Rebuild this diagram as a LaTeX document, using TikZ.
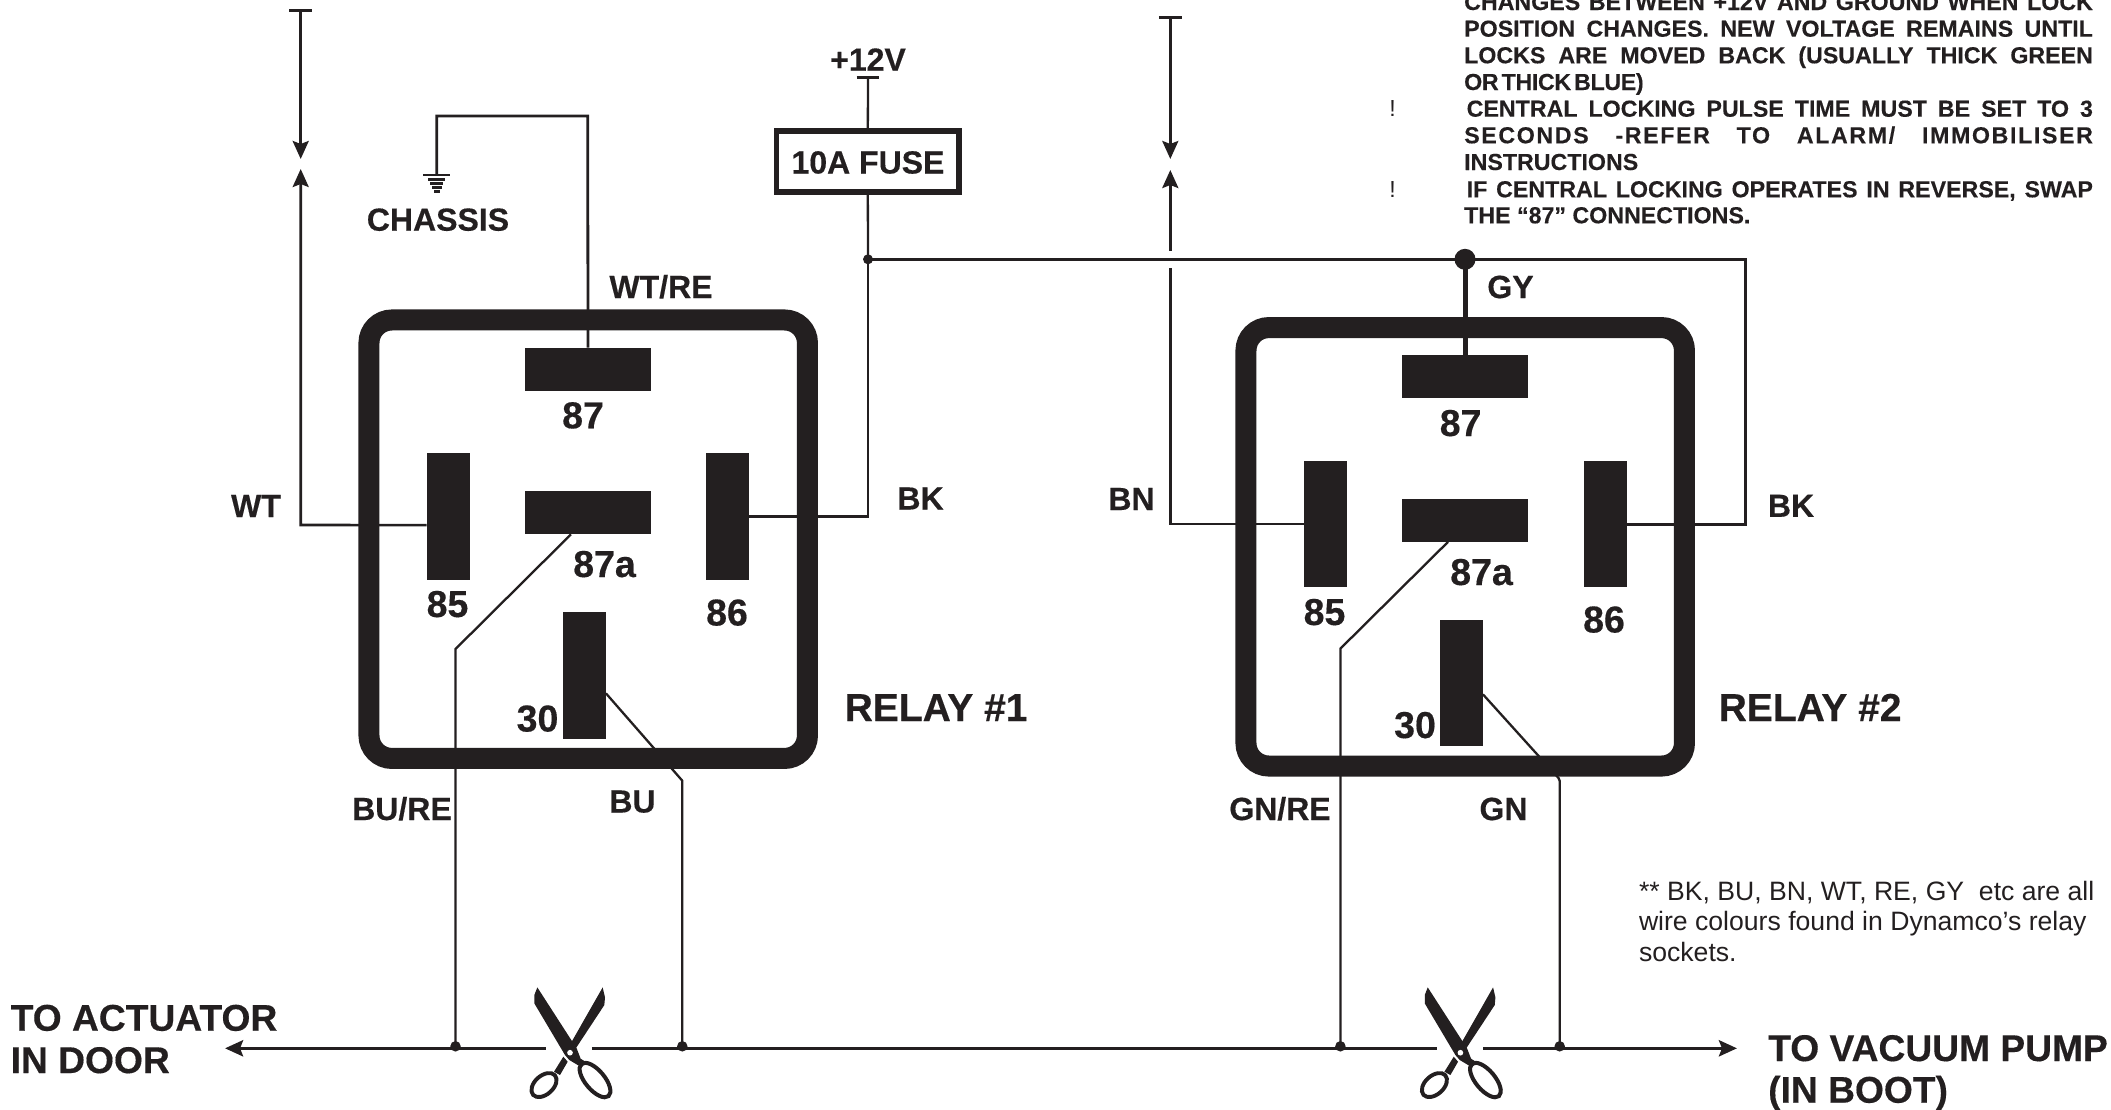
\documentclass[tikz,border=0pt]{standalone}
\usepackage{fontspec}
\setmainfont{Liberation Sans}
\usetikzlibrary{arrows.meta}
\definecolor{ink}{HTML}{231F20}
\newcommand{\heavyfont}[1]{\fontsize{#1}{#1}\selectfont\bfseries\addfontfeature{FakeBold=0.35}}
\tikzset{
  relaybox/.style={draw=ink,line width=21pt,rounded corners=23pt,minimum width=438.5pt,minimum height=438.5pt,inner sep=0pt,outer sep=0pt},
  pinh/.style={fill=ink,minimum width=126pt,minimum height=43pt,inner sep=0pt,outer sep=0pt},
  pinv/.style={fill=ink,minimum width=43pt,minimum height=126.5pt,inner sep=0pt,outer sep=0pt},
  wire/.style={draw=ink,line width=2.3pt,line join=miter},
  heavy/.style={draw=ink,line width=3.6pt},
  tip/.style={-{Stealth[length=18pt,width=16pt,inset=3pt]}},
  lab/.style={text=ink,anchor=base,inner sep=0pt,font=\heavyfont{32}},
  num/.style={text=ink,anchor=base,inner sep=0pt,font=\heavyfont{37.5}},
  big/.style={text=ink,anchor=base west,inner sep=0pt,font=\heavyfont{37.2}},
  reltitle/.style={text=ink,anchor=base west,inner sep=0pt,font=\heavyfont{39}},
  noteline/.style={text=ink,anchor=base west,inner sep=0pt,font=\fontsize{23.2}{26}\selectfont\bfseries\addfontfeature{FakeBold=0.25}},
  bang/.style={text=ink,anchor=base,inner sep=0pt,font=\fontsize{23.2}{26}\selectfont},
  small/.style={text=ink,anchor=base west,inner sep=0pt,font=\fontsize{26.6}{30}\selectfont},
  dot/.style={circle,fill=ink,inner sep=0pt,outer sep=0pt,minimum size=#1},
  scissors/.pic={
    \begin{scope}[x=0.3333pt,y=-0.3333pt,shift={(-270,-278)}]
      \fill[ink] (368,82) -- (375,112) -- (373,135) -- (288,264) -- (275,245) -- cycle;
      \fill[ink] (250,290) -- (263,305) -- (240,345) -- (222,335) -- cycle;
      \draw[ink,line width=3.9pt,rotate around={42:(192,375)}] (192,375) ellipse [x radius=44,y radius=28];
      \draw[ink,line width=4pt,rotate around={-50:(345,360)}] (345,360) ellipse [x radius=63,y radius=29];
      \fill[ink] (172,82) -- (290,265) -- (302,296) -- (318,306) -- (305,322) -- (268,300) -- (255,285) -- (163,130) -- (163,105) -- cycle;
      \fill[white] (270,278) circle [radius=8.5];
    \end{scope}
  }
}
\begin{document}
\begin{tikzpicture}[x=1pt,y=-1pt]
\useasboundingbox (0,0) rectangle (2111,1109);

% relays
\node[relaybox] (r1) at (588.2,539.2) {};
\node[relaybox] (r2) at (1465.2,546.8) {};

% pins relay 1
\node[pinh] (a87) at (588,369) {};
\node[pinh] (a87a) at (588,512.8) {};
\node[pinv] (a85) at (448.2,516.6) {};
\node[pinv] (a86) at (727.7,516.6) {};
\node[pinv] (a30) at (584.4,675.5) {};
% pins relay 2
\node[pinh] (b87) at (1465,376.5) {};
\node[pinh] (b87a) at (1465,520.4) {};
\node[pinv] (b85) at (1325.5,524) {};
\node[pinv] (b86) at (1605.4,524) {};
\node[pinv] (b30) at (1461.4,683) {};

% fuse
\node[draw=ink,line width=5.2pt,minimum width=182.5pt,minimum height=61pt,inner sep=0pt,outer sep=0pt] (fuse) at (867.8,161.5) {};
\node[lab] (fusetxt) at (868,173.5) {10A FUSE};

% free ends
\coordinate (plus) at (868,77.7);
\coordinate (plusL) at (856.7,77.7);
\coordinate (plusR) at (879.3,77.7);
\coordinate (ttop1) at (300.7,10);
\coordinate (ttop1L) at (289.2,10);
\coordinate (ttop1R) at (312.2,10);
\coordinate (down1) at (300.7,159);
\coordinate (up1) at (300.7,169);
\coordinate (ttop2) at (1170.3,17.5);
\coordinate (ttop2L) at (1158.8,17.5);
\coordinate (ttop2R) at (1181.8,17.5);
\coordinate (down2) at (1170.3,159);
\coordinate (up2) at (1170.3,170);
\coordinate (brk1) at (1170.3,267.5);
\coordinate (brk2) at (1170.3,250.5);
\coordinate (gnd) at (436.7,175);
\node[dot=10pt] (j1) at (868,259.3) {};
\node[dot=21pt] (j2) at (1465,259.3) {};
\node[dot=10.5pt] (d1) at (455.5,1046.3) {};
\node[dot=10.5pt] (d2) at (682.3,1046.3) {};
\node[dot=10.5pt] (d3) at (1340.4,1046.3) {};
\node[dot=10.5pt] (d4) at (1559.7,1046.3) {};
\coordinate (tipL) at (225,1048.3);
\coordinate (gapA) at (545.5,1048.3);
\coordinate (gapB) at (591.8,1048.3);
\coordinate (gapC) at (1437,1048.3);
\coordinate (gapD) at (1483,1048.3);
\coordinate (tipR) at (1737,1048.3);

% supply wires
\draw[wire] (plus) -- (fuse.north);
\draw[wire,line width=3pt] (plusL) -- (plusR);
\draw[wire] (fuse.south) -- (j1.center);
\draw[wire] (j1.center) -- (j1.center |- a86.east) -- (a86.east);
\draw[heavy] (j1.center) -- (j2.center);
\draw[wire,line width=3pt] (j2.center) -- (1745.7,259.3) -- (1745.7,524) -- (b86.east);
\draw[wire,line width=5pt] (j2.center) -- (b87.north);

% relay 1 inputs
\draw[wire,line width=2.8pt,tip] (ttop1) -- (down1);
\draw[wire,line width=3pt] (ttop1L) -- (ttop1R);
\draw[wire,line width=2.6pt,tip] ([yshift=-8.5pt]a85.west) -- (300.7,525) -- (up1);
\draw[wire,line width=2.8pt] (a87.north) -- (587.7,116) -- (436.7,116) -- (gnd);
% ground bars
\fill[ink] (423.4,173.6) rectangle (450,176.4);
\fill[ink] (428,178.4) rectangle (445.4,180.8);
\fill[ink] (430,182.4) rectangle (443.4,184.8);
\fill[ink] (431.7,186.4) rectangle (441.7,188.8);
\fill[ink] (433.7,190.2) rectangle (439.7,192.8);

% relay 2 inputs
\draw[wire,line width=2.8pt,tip] (ttop2) -- (down2);
\draw[wire,line width=3pt] (ttop2L) -- (ttop2R);
\draw[wire,line width=2.8pt,tip] (brk2) -- (up2);
\draw[wire,line width=2.6pt] (b85.west) -- (1170.3,524) -- (brk1);

% output wires
\draw[wire] (a87a.south -| 571,0) -- (455.5,649) -- (d1.center);
\draw[wire] ([yshift=-17.8pt]a30.east) -- (682.3,780.7) -- (d2.center);
\draw[wire] (b87a.south -| 1448,0) -- (1340.4,648.6) -- (d3.center);
\draw[wire] ([yshift=-11.3pt]b30.east) -- (1558.5,778) -- (1559.7,781) -- (d4.center);

% bus
\draw[heavy,-{Stealth[length=18pt,width=16pt,inset=3pt]}] (gapA) -- (tipL);
\draw[heavy] (gapB) -- (gapC);
\draw[heavy,-{Stealth[length=18pt,width=16pt,inset=3pt]}] (gapD) -- (tipR);

\pic at (570,1052.7) {scissors};
\pic at (1460.4,1052.7) {scissors};

% wire labels
\node[lab] (tchassis) at (438,230.7) {CHASSIS};
\node[lab] (tplus) at (868,70.7) {+12V};
\node[lab] (wtre) at (661,298) {WT/RE};
\node[lab] (wt) at (256,517) {WT};
\node[lab] (bk1) at (920.5,509.5) {BK};
\node[lab] (bure) at (402,820) {BU/RE};
\node[lab] (bu) at (632.5,812.5) {BU};
\node[lab] (gy) at (1510.5,298) {GY};
\node[lab] (bn) at (1131.5,510) {BN};
\node[lab] (bk2) at (1791,516.8) {BK};
\node[lab] (gnre) at (1280,820) {GN/RE};
\node[lab] (gn) at (1503.5,820) {GN};

% pin numbers
\node[num] (n87) at (583,428.3) {87};
\node[num] (n87a) at (604.5,577) {87a};
\node[num] (n85) at (447.5,617) {85};
\node[num] (n86) at (727,625.5) {86};
\node[num] (n30) at (537.5,731.5) {30};
\node[num] (m87) at (1460.6,436) {87};
\node[num] (m87a) at (1481.5,585) {87a};
\node[num] (m85) at (1324.5,625) {85};
\node[num] (m86) at (1604,632.5) {86};
\node[num] (m30) at (1415,738) {30};

% relay titles
\node[reltitle] (rel1) at (844.5,721) {RELAY \#1};
\node[reltitle] (rel2) at (1718.5,721) {RELAY \#2};

% destinations
\node[big] (act1) at (10.5,1030.7) {TO ACTUATOR};
\node[big] (act2) at (10.5,1073) {IN DOOR};
\node[big] (vac1) at (1768,1061) {TO VACUUM PUMP};
\node[big] (vac2) at (1768,1102.7) {(IN BOOT)};

% top right notes
\node[noteline] (l0) at (1464,10) {\makebox[628.7pt][s]{CHANGES BETWEEN +12V AND GROUND WHEN LOCK}};
\node[noteline] (l1) at (1464,36.7) {\makebox[628.7pt][s]{POSITION CHANGES. NEW VOLTAGE REMAINS UNTIL}};
\node[noteline] (l2) at (1464,63.3) {\makebox[628.7pt][s]{LOCKS ARE MOVED BACK (USUALLY THICK GREEN}};
\node[noteline] (l3) at (1464,90) {\addfontfeature{LetterSpace=-1.5}OR\hspace{3pt}THICK\hspace{3pt}BLUE)};
\node[noteline] (l4) at (1466.5,116.7) {\makebox[626.2pt][s]{CENTRAL LOCKING PULSE TIME MUST BE SET TO 3}};
\node[noteline] (l5) at (1464,143.3) {\makebox[628.7pt][s]{\addfontfeature{LetterSpace=7}SECONDS -REFER TO ALARM/ IMMOBILISER}};
\node[noteline] (l6) at (1464,170) {INSTRUCTIONS};
\node[noteline] (l7) at (1466.5,197.3) {\makebox[626.2pt][s]{IF CENTRAL LOCKING OPERATES IN REVERSE, SWAP}};
\node[noteline] (l8) at (1464,223.3) {THE “87” CONNECTIONS.};
\node[bang] (b1) at (1392.7,116.7) {!};
\node[bang] (b2) at (1392.7,197.3) {!};

% footnote
\node[small] (f1) at (1638.8,900.7) {** BK, BU, BN, WT, RE, GY\ \ etc are all};
\node[small] (f2) at (1638.8,930.7) {wire colours found in Dynamco’s relay};
\node[small] (f3) at (1638.8,961) {sockets.};
\end{tikzpicture}
\end{document}
